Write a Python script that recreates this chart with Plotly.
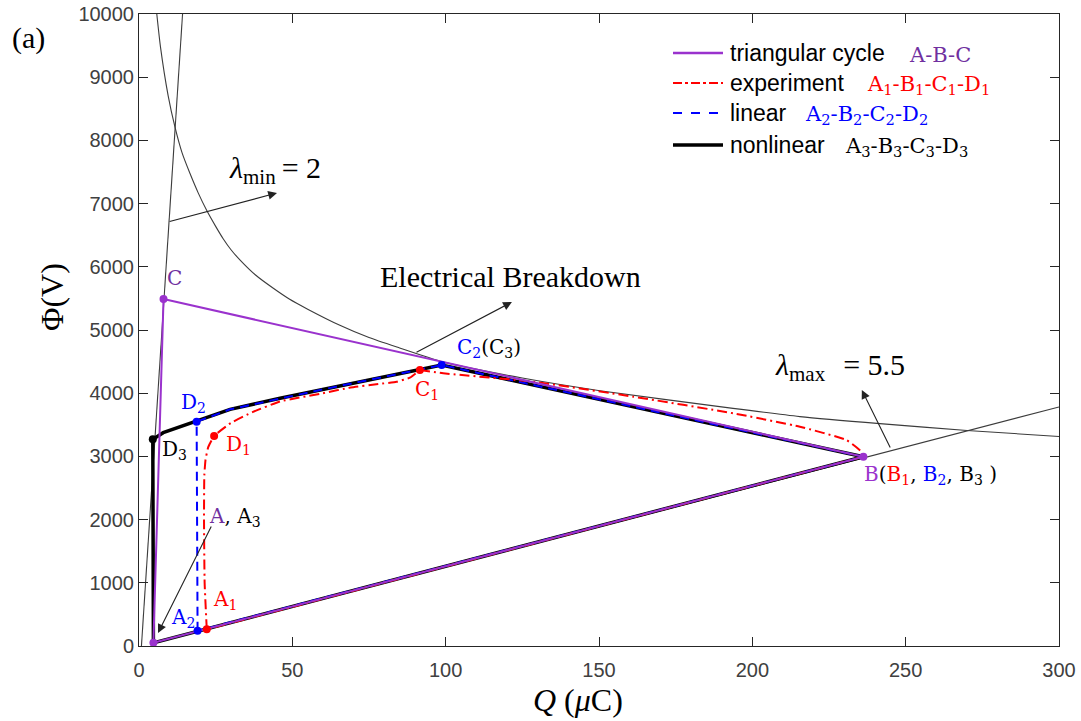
import plotly.graph_objects as go

# ---------------- data ----------------
# electrical breakdown curve
Q_bd = [5.8, 7.0, 9.5, 11.7, 14.0, 16.6, 19.3, 22.1, 25.0, 27.5, 30.0, 32.9, 38.0, 43.8, 49.0, 55, 65.5, 75, 85.0, 98.7, 125, 150.3, 193.7, 215.5, 241.6, 270, 300]
Phi_bd = [10000, 9480, 8710, 8217, 7810, 7479, 7170, 6890, 6640, 6440, 6270, 6110, 5870, 5660, 5490, 5330, 5075, 4880, 4715, 4500, 4240, 4040, 3760, 3630, 3518, 3410, 3315]
# lambda_min = 2 line
Q_lmin = [0.8, 14.2]
Phi_lmin = [0, 10000]
# lambda_max = 5.5 line
Q_lmax = [4.7, 300]
Phi_lmax = [50, 3782]

# triangular cycle A-B-C
Q_tri = [4.7, 236.2, 8.0, 4.7]
Phi_tri = [50, 2995, 5490, 50]

# experiment A1-B1-C1-D1: A1 -> D1 -> C1, C1 -> B1, then straight B1 -> A1
Q_exp_a = [22.1, 21.4, 21.2, 21.3, 21.7, 22.6, 24.5, 30, 37, 46, 60, 69, 78, 84, 88.5, 91.6]
Phi_exp_a = [264, 1000, 2000, 2700, 2950, 3150, 3323, 3530, 3700, 3870, 4000, 4090, 4145, 4180, 4250, 4367]
Q_exp_b = [91.6, 99.2, 128.6, 161.2, 193.8, 215.5, 230.7, 235.6, 236.2]
Phi_exp_b = [4367, 4315, 4182, 3945, 3682, 3470, 3259, 3074, 2995]
Q_exp_ret = [236.2, 22.1]
Phi_exp_ret = [2995, 264]

# linear A2-B2-C2-D2
Q_lin = [19.1, 18.8, 29.7, 46, 60, 72, 90.5, 98.7, 236.2, 19.1]
Phi_lin = [240, 3549, 3745, 3919, 4060, 4180, 4367, 4446, 2995, 240]

# nonlinear A3-B3-C3-D3
Q_nl = [4.7, 4.5, 7.9, 13.4, 18.8, 29.7, 46, 60, 72, 90.5, 98.7, 236.2, 4.7]
Phi_nl = [50, 3270, 3375, 3470, 3549, 3745, 3919, 4060, 4180, 4367, 4446, 2995, 50]

# marked points
Q_pts_tri = [4.7, 236.2, 8.0]
Phi_pts_tri = [50, 2995, 5490]
Q_pts_exp = [22.1, 24.5, 91.6]
Phi_pts_exp = [264, 3323, 4367]
Q_pts_lin = [19.1, 18.8, 98.7]
Phi_pts_lin = [240, 3549, 4446]
Q_pts_nl = [4.5]
Phi_pts_nl = [3270]

x_ticks = [0, 50, 100, 150, 200, 250, 300]
y_ticks = [0, 1000, 2000, 3000, 4000, 5000, 6000, 7000, 8000, 9000, 10000]

legend_names = ["triangular cycle", "experiment", "linear", "nonlinear"]
legend_tags = ["A-B-C",
               "A<sub>1</sub>-B<sub>1</sub>-C<sub>1</sub>-D<sub>1</sub>",
               "A<sub>2</sub>-B<sub>2</sub>-C<sub>2</sub>-D<sub>2</sub>",
               "A<sub>3</sub>-B<sub>3</sub>-C<sub>3</sub>-D<sub>3</sub>"]

PURPLE = "#9a32cd"
PURPLE_TXT = "#7030a0"
GRAY = "#3c3c3c"
SERIF_PT = "DejaVu Serif"
TIMES = "Liberation Serif"
RED_DASH = "10px,4px,2px,4px"
BLUE_DASH = "9px,6px"

# plot area in pixels
L, R, T, B = 139, 1059, 14, 646
W, H = R - L, B - T

def px(xp):
    return (xp - L) / W

def py(yp):
    return 1 - (yp - T) / H

fig = go.Figure()

# gray reference curves
fig.add_trace(go.Scatter(x=Q_bd, y=Phi_bd, mode="lines", line=dict(color=GRAY, width=1.1, shape="spline", smoothing=0.6),
                         showlegend=False, hoverinfo="skip"))
for qx, pyv in [(Q_lmin, Phi_lmin), (Q_lmax, Phi_lmax)]:
    fig.add_trace(go.Scatter(x=qx, y=pyv, mode="lines", line=dict(color=GRAY, width=1.1),
                             showlegend=False, hoverinfo="skip"))

fig.add_trace(go.Scatter(x=Q_nl, y=Phi_nl, mode="lines", line=dict(color="black", width=3.5),
                         name="nonlinear", showlegend=False))
fig.add_trace(go.Scatter(x=Q_lin, y=Phi_lin, mode="lines", line=dict(color="blue", width=2, dash=BLUE_DASH),
                         name="linear", showlegend=False))
fig.add_trace(go.Scatter(x=Q_exp_ret, y=Phi_exp_ret, mode="lines", line=dict(color="red", width=2, dash=RED_DASH),
                         showlegend=False, hoverinfo="skip"))
fig.add_trace(go.Scatter(x=Q_exp_a, y=Phi_exp_a, mode="lines", line=dict(color="red", width=2, dash=RED_DASH, shape="spline", smoothing=0.4),
                         name="experiment", showlegend=False))
fig.add_trace(go.Scatter(x=Q_exp_b, y=Phi_exp_b, mode="lines", line=dict(color="red", width=2, dash=RED_DASH, shape="spline", smoothing=0.4),
                         name="experiment", showlegend=False, hoverinfo="skip"))
fig.add_trace(go.Scatter(x=Q_tri, y=Phi_tri, mode="lines", line=dict(color=PURPLE, width=2),
                         name="triangular cycle", showlegend=False))

for qx, pyv, c in [(Q_pts_nl, Phi_pts_nl, "black"), (Q_pts_lin, Phi_pts_lin, "blue"),
                   (Q_pts_exp, Phi_pts_exp, "red"), (Q_pts_tri, Phi_pts_tri, PURPLE)]:
    fig.add_trace(go.Scatter(x=qx, y=pyv, mode="markers", marker=dict(color=c, size=8),
                             showlegend=False, hoverinfo="skip"))

ann = []
shapes = []

def arrow(x0, y0, x1, y1):
    ann.append(dict(x=x1, y=y1, ax=x0, ay=y0, xref="x", yref="y", axref="x", ayref="y",
                    showarrow=True, arrowhead=2, arrowsize=1.6, arrowwidth=1.1, arrowcolor="#222", text=""))

arrow(9.5, 6709, 45, 7168)
arrow(90, 4636, 121.6, 5443)
arrow(245.2, 3117, 235.7, 4051)
arrow(23.8, 1915, 6.2, 206)

def txt(x, y, s, size=20, family=SERIF_PT, color="black"):
    ann.append(dict(x=x, y=y, xref="x", yref="y", text=s, showarrow=False,
                    font=dict(size=size, family=family, color=color)))

SUBF = "<span style='font-size:21px'>%s</span>"
txt(44.5, 7530, "<i>λ</i><sub>" + SUBF % "min" + "</sub>\u2009= 2", size=30, family=TIMES)
txt(121.3, 5839, "Electrical Breakdown", size=30, family=TIMES)
txt(228.5, 4420, "<i>λ</i><sub>" + SUBF % "max" + "</sub>\u2009\u2009\u2009= 5.5", size=30, family=TIMES)

txt(11.7, 5823, "C", color=PURPLE_TXT)
txt(17.8, 3845, "D<sub>2</sub>", color="blue")
txt(11.7, 3101, "D<sub>3</sub>", color="black")
txt(32.3, 3180, "D<sub>1</sub>", color="red")
txt(31.3, 2041, "<span style='color:%s'>A</span>, A<sub>3</sub>" % PURPLE_TXT)
txt(28.0, 728, "A<sub>1</sub>", color="red")
txt(14.2, 443, "A<sub>2</sub>", color="blue")
txt(93.8, 4051, "C<sub>1</sub>", color="red")
txt(114.1, 4715, "<span style='color:blue'>C<sub>2</sub></span>(C<sub>3</sub>)")
txt(258, 2706, "<span style='color:%s'>B</span>(<span style='color:red'>B<sub>1</sub></span>, "
               "<span style='color:blue'>B<sub>2</sub></span>, B<sub>3</sub> )" % PURPLE)

# ---- legend drawn in pixel positions ----
leg_rows = [53, 83, 113, 145]
leg_tag_x = [907, 865, 803, 843]
leg_line = [dict(color=PURPLE, width=2.5), dict(color="red", width=2, dash="dashdot"),
            dict(color="blue", width=2, dash="dash"), dict(color="black", width=3.5)]
leg_tag_col = [PURPLE_TXT, "red", "blue", "black"]
for name, tag, yr, tx, ln, tc in zip(legend_names, legend_tags, leg_rows, leg_tag_x, leg_line, leg_tag_col):
    shapes.append(dict(type="line", xref="paper", yref="paper", x0=px(673), x1=px(723), y0=py(yr), y1=py(yr),
                       line=ln))
    ann.append(dict(x=px(728), y=py(yr), xref="paper", yref="paper", text=name, showarrow=False,
                    xanchor="left", yanchor="middle", font=dict(size=23, family="Liberation Sans", color="black")))
    ann.append(dict(x=px(tx), y=py(yr + 2), xref="paper", yref="paper", text=tag, showarrow=False,
                    xanchor="left", yanchor="middle", font=dict(size=21, family=SERIF_PT, color=tc)))

# panel tag and axis titles (placed in pixel positions)
ann.append(dict(x=px(28), y=py(38), xref="paper", yref="paper", text="(a)", showarrow=False,
                xanchor="center", yanchor="middle", font=dict(size=30, family=TIMES, color="black")))
ann.append(dict(x=px(578), y=py(700), xref="paper", yref="paper", text="<i>Q</i> (<i>μ</i>C)", showarrow=False,
                xanchor="center", yanchor="middle", font=dict(size=32, family=TIMES, color="black")))
ann.append(dict(x=px(52), y=py(297), xref="paper", yref="paper", text="Φ(V)", showarrow=False, textangle=-90,
                xanchor="center", yanchor="middle", font=dict(size=32, family=TIMES, color="black")))

fig.update_layout(
    width=1081, height=721,
    margin=dict(l=L, r=1081 - R, t=T, b=721 - B, autoexpand=False),
    paper_bgcolor="white", plot_bgcolor="white",
    annotations=ann, shapes=shapes,
    showlegend=False,
    font=dict(family="Liberation Sans"),
)

axis_common = dict(showgrid=False, zeroline=False, showline=True, linecolor="#262626", linewidth=1,
                   mirror="ticks", ticks="inside", ticklen=9, tickcolor="#262626", automargin=False,
                   tickfont=dict(family="Liberation Sans", size=20, color="#404040"))
fig.update_xaxes(range=[0, 300], tickvals=x_ticks, ticktext=[str(v) for v in x_ticks],
                 ticklabelstandoff=6, **axis_common)
fig.update_yaxes(range=[0, 10000], tickvals=y_ticks, ticktext=[str(v) for v in y_ticks], **axis_common)

fig.write_html("out.html")
